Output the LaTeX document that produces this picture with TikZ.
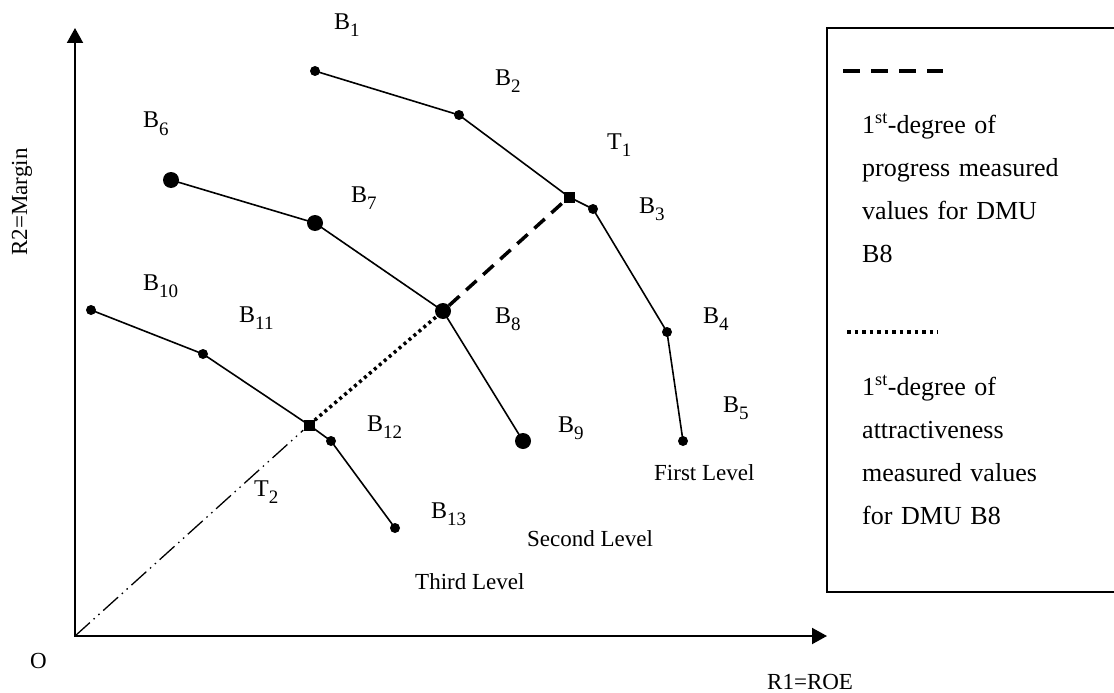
\documentclass[tikz,border=0pt]{standalone}
\usepackage{fontspec}
\setmainfont{Liberation Serif}
\usetikzlibrary{
	positioning,
	arrows.meta
}

\newcommand{\Bsub}[2]{{\fontsize{24}{28}\selectfont #1}\raisebox{-7pt}{\fontsize{19}{19}\selectfont #2}}

\begin{document}
\begin{tikzpicture}[
			x=1pt,y=-1pt,
			dmu/.style={
				circle,
				fill=black,
				inner sep=0pt,
				minimum size=10pt
			},
			bigdmu/.style={
				dmu,
				minimum size=16pt
			},
			target/.style={
				rectangle,
				fill=black,
				inner sep=0pt,
				minimum size=11pt
			},
			lbl/.style={
				anchor=base west,
				inner sep=0pt,
				font=\fontsize{23}{27}\selectfont
			},
			legtext/.style={
				anchor=base west,
				inner sep=0pt,
				text width=240pt,
				align=left,
				font=\fontsize{26}{43}\selectfont
			},
			frontier/.style={line width=1.6pt},
			axis/.style={{Triangle[length=15pt,width=16pt]}-{Triangle[length=15pt,width=16pt]},line width=2pt},
			progress/.style={line width=3.5pt,dash pattern=on 14pt off 9pt},
			attract/.style={line width=3.5pt,dash pattern=on 3pt off 3.5pt},
			ray/.style={line width=1.3pt,dash pattern=on 20pt off 5pt on 1.5pt off 5pt on 1.5pt off 5pt}
			]
			
			\useasboundingbox (0,0) rectangle (1114,693);
			\clip (0,0) rectangle (1114,693);
			
			% axes
			\coordinate (o) at (75,636);
			\coordinate (ytip) at (75,28);
			\coordinate (xtip) at (827,636);
			\draw[axis] (ytip)--(o)--(xtip);
			
			\node[lbl] (olbl) at (30,668) {O};
			\node[lbl] (xlbl) at (767,689) {R1=ROE};
			\node[rotate=90,inner sep=0pt,font=\fontsize{23}{27}\selectfont] (ylbl) at (22,202) {R2=Margin};
			
			% first level
			\node[dmu] (b1) at (315,71) {};
			\node[dmu] (b2) at (459,115) {};
			\node[target] (t1) at (569,197) {};
			\node[dmu] (b3) at (593,209) {};
			\node[dmu] (b4) at (667,332) {};
			\node[dmu] (b5) at (683,441) {};
			
			% second level
			\node[bigdmu] (b6) at (171,180) {};
			\node[bigdmu] (b7) at (315,223) {};
			\node[bigdmu] (b8) at (443,311) {};
			\node[bigdmu] (b9) at (523,441) {};
			
			% third level
			\node[dmu] (b10) at (91,310) {};
			\node[dmu] (b11) at (203,354) {};
			\node[target] (t2) at (309,425) {};
			\node[dmu] (b12) at (331,441) {};
			\node[dmu] (b13) at (395,528) {};
			
			\draw[frontier] (b1.center)--(b2.center)--(t1.center)--(b3.center)--(b4.center)--(b5.center);
			\draw[frontier] (b6.center)--(b7.center)--(b8.center)--(b9.center);
			\draw[frontier] (b10.center)--(b11.center)--(t2.center)--(b12.center)--(b13.center);
			
			\draw[progress] (b8)--(t1);
			\draw[attract] (t2)--(b8);
			\draw[ray] (o)--(t2);
			
			% labels
			\node[lbl] (l1) at (334,30) {\Bsub{B}{1}};
			\node[lbl] (l2) at (495,85) {\Bsub{B}{2}};
			\node[lbl] (lt1) at (607,149) {\Bsub{T}{1}};
			\node[lbl] (l3) at (639,213) {\Bsub{B}{3}};
			\node[lbl] (l4) at (703,323) {\Bsub{B}{4}};
			\node[lbl] (l5) at (723,412) {\Bsub{B}{5}};
			\node[lbl] (l6) at (143,128) {\Bsub{B}{6}};
			\node[lbl] (l7) at (351,202) {\Bsub{B}{7}};
			\node[lbl] (l8) at (495,323) {\Bsub{B}{8}};
			\node[lbl] (l9) at (558,432) {\Bsub{B}{9}};
			\node[lbl] (l10) at (143,290) {\Bsub{B}{10}};
			\node[lbl] (l11) at (239,322) {\Bsub{B}{11}};
			\node[lbl] (l12) at (367,431) {\Bsub{B}{12}};
			\node[lbl] (l13) at (431,518) {\Bsub{B}{13}};
			\node[lbl] (lt2) at (254,496) {\Bsub{T}{2}};
			
			\node[lbl] (first) at (654,480) {First Level};
			\node[lbl] (second) at (527,546) {Second Level};
			\node[lbl] (third) at (415,589) {Third Level};
			
			% legend
			\draw[line width=2.3pt] (1130,28) -| (827,592) -- (1130,592);
			\coordinate (pa) at (843,71);
			\coordinate (pb) at (943,71);
			\draw[line width=4pt,dash pattern=on 17pt off 11pt] (pa)--(pb);
			\node[legtext] (ptext) at (862,133)
			{1\textsuperscript{st}-degree of\\progress measured\\values for DMU\\B8};
			\coordinate (aa) at (847,332);
			\coordinate (ab) at (938,332);
			\draw[line width=4pt,dash pattern=on 3.5pt off 4pt] (aa)--(ab);
			\node[legtext] (atext) at (862,395)
			{1\textsuperscript{st}-degree of\\attractiveness\\measured values\\for DMU B8};
			
		\end{tikzpicture}
\end{document}
